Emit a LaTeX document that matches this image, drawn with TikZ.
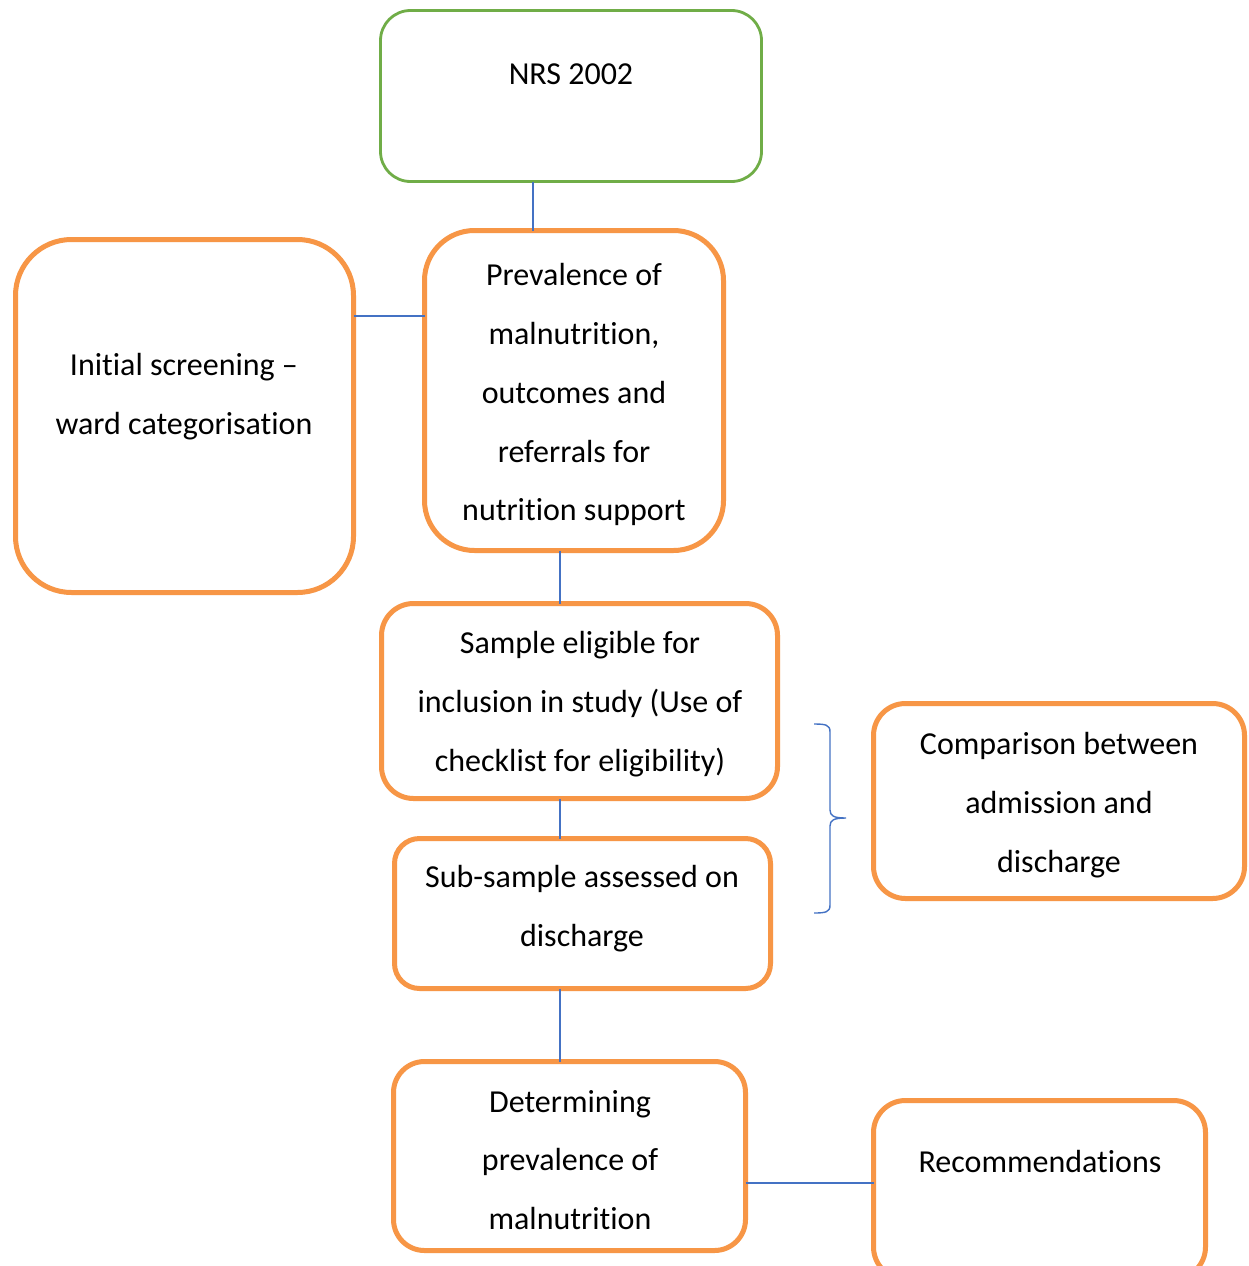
\documentclass[tikz,border=0pt]{standalone}
\usepackage{fontspec}
\setmainfont{Carlito}[Ligatures={NoCommon}]
\definecolor{bxgreen}{HTML}{70AD47}
\definecolor{bxorange}{HTML}{F79646}
\definecolor{lnblue}{HTML}{4472C4}
\begin{document}
\begin{tikzpicture}[x=1pt,y=-1pt,
  box/.style={draw=bxorange, line width=5pt, fill=white, rectangle, inner sep=0pt, outer sep=0pt},
  gbox/.style={draw=bxgreen, line width=2.8pt, fill=white, rectangle, inner sep=0pt, outer sep=0pt},
  txt/.style={align=center, inner sep=0pt, font=\fontsize{32}{58.7}\selectfont,
    execute at begin node=\strut, execute at end node=\strut},
  conn/.style={draw=lnblue, line width=1.6pt}]
\useasboundingbox (0,0) rectangle (1249,1266);
\fill[white] (0,0) rectangle (1249,1266);
% boxes
\node[gbox, rounded corners=30pt, minimum width=381pt, minimum height=171pt] (nrs) at (571,96) {};
\node[box, rounded corners=50pt, minimum width=299pt, minimum height=320pt] (prev) at (574,390.5) {};
\node[box, rounded corners=56pt, minimum width=338pt, minimum height=353pt] (init) at (184.5,416) {};
\node[box, rounded corners=32pt, minimum width=396pt, minimum height=195pt] (sample) at (579.5,701) {};
\node[box, rounded corners=25pt, minimum width=376pt, minimum height=150pt] (sub) at (582.5,913.5) {};
\node[box, rounded corners=32pt, minimum width=371pt, minimum height=195pt] (comp) at (1059,801) {};
\node[box, rounded corners=31pt, minimum width=352pt, minimum height=189pt] (det) at (569.5,1156) {};
\node[box, rounded corners=32pt, minimum width=332pt, minimum height=178.5pt] (recs) at (1039.5,1189.75) {};
% texts
\node[txt] (tnrs) at (571,73) {NRS 2002};
\node[txt] (tprev) at (574,401) {Prevalence of\\malnutrition,\\outcomes and\\referrals for\\nutrition support};
\node[txt] (tinit) at (184,403) {Initial screening –\\ward categorisation};
\node[txt] (tsample) at (580,710) {Sample eligible for\\inclusion in study (Use of\\checklist for eligibility)};
\node[txt] (tsub) at (582,914.5) {Sub-sample assessed on\\discharge};
\node[txt] (tcomp) at (1059,811) {Comparison between\\admission and\\discharge};
\node[txt] (tdet) at (570,1168.5) {Determining\\prevalence of\\malnutrition};
\node[txt] (trecs) at (1040,1161) {Recommendations};
% connectors
\draw[conn] (nrs.south -| 533,0) -- (prev.north -| 533,0);
\draw[conn] (init.east |- 0,316) -- (prev.west |- 0,316);
\draw[conn] (prev.south -| 560,0) -- (sample.north -| 560,0);
\draw[conn] (sample.south -| 560,0) -- (sub.north -| 560,0);
\draw[conn] (sub.south -| 560,0) -- (det.north -| 560,0);
\draw[conn] (det.east |- 0,1183) -- (recs.west |- 0,1183);
% brace
\draw[conn, line width=1.4pt] (814,724) .. controls (826,724) and (830,725) .. (830,732) -- (830,810)
  .. controls (830,816) and (834,818) .. (846,818)
  .. controls (834,818) and (830,820) .. (830,826) -- (830,905)
  .. controls (830,912) and (826,913) .. (814,913);
\end{tikzpicture}
\end{document}
